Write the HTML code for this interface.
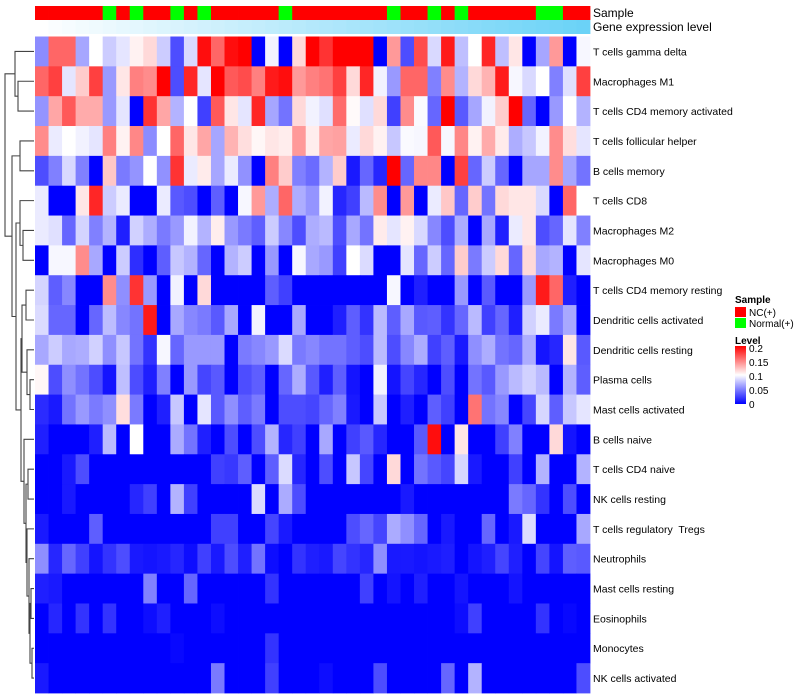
<!DOCTYPE html>
<html><head><meta charset="utf-8"><style>
html,body{margin:0;padding:0;background:#fff;}
svg{display:block;font-family:"Liberation Sans",Arial,sans-serif;}
#labels text{white-space:pre;}
</style></head><body>
<svg id="chart" width="800" height="700" viewBox="0 0 800 700" xmlns="http://www.w3.org/2000/svg">
<g id="dendro"></g>
<g id="annot"></g>
<g id="cells"></g>
<g id="labels"></g>
<text x="593" y="17" font-size="12">Sample</text>
<text x="593" y="31" font-size="12">Gene expression level</text>
<g>
<text x="735" y="303" font-size="10" font-weight="bold">Sample</text>
<rect x="735" y="307" width="11" height="10" fill="#ff0000"/>
<text x="749" y="316" font-size="10">NC(+)</text>
<rect x="735" y="318" width="11" height="10" fill="#00ff00"/>
<text x="749" y="327" font-size="10">Normal(+)</text>
<text x="735" y="344" font-size="10" font-weight="bold">Level</text>
<defs><linearGradient id="lg" x1="0" y1="1" x2="0" y2="0"><stop offset="0" stop-color="#0000ff"/><stop offset="0.5" stop-color="#ffffff"/><stop offset="1" stop-color="#ff0000"/></linearGradient></defs>
<rect x="735" y="346" width="11" height="58" fill="url(#lg)"/>
<g id="lticks"></g>
</g>
</svg>
<script>
const rowNames=["T cells gamma delta","Macrophages M1","T cells CD4 memory activated","T cells follicular helper","B cells memory","T cells CD8","Macrophages M2","Macrophages M0","T cells CD4 memory resting","Dendritic cells activated","Dendritic cells resting","Plasma cells","Mast cells activated","B cells naive","T cells CD4 naive","NK cells resting","T cells regulatory  Tregs","Neutrophils","Mast cells resting","Eosinophils","Monocytes","NK cells activated"];
const sampleGroup=["NC","NC","NC","NC","NC","Normal","NC","Normal","NC","NC","Normal","NC","Normal","NC","NC","NC","NC","NC","Normal","NC","NC","NC","NC","NC","NC","NC","Normal","NC","NC","Normal","NC","Normal","NC","NC","NC","NC","NC","Normal","Normal","NC","NC"];
const geneLevel=[0,0.03,0.05,0.07,0.09,0.11,0.13,0.15,0.17,0.19,0.21,0.23,0.25,0.27,0.29,0.31,0.33,0.35,0.37,0.39,0.41,0.43,0.45,0.47,0.49,0.51,0.53,0.55,0.57,0.59,0.61,0.63,0.65,0.67,0.69,0.71,0.73,0.75,0.77,0.79,0.81];
const levelTicks=[0,0.05,0.1,0.15,0.2];
const r1=[.055,.16,.16,.065,.1,.08,.09,.105,.115,.08,.03,.085,.195,.16,.195,.2,0,.095,0,.115,.2,.18,.2,.2,.2,0,.14,.03,.17,.085,.19,.075,.1,.185,.075,.11,0,.065,.14,0,.097];
const r2=[.16,.175,.09,.12,.175,.06,.11,.15,.145,.2,.03,.185,.09,.2,.165,.17,.15,.19,.195,.14,.15,.155,.175,.115,.185,.095,.06,.16,.16,.05,.145,.07,.115,.13,.19,.097,.085,.1,.05,.088,.175];
const r3=[.058,.135,.165,.133,.133,.06,.09,0,.18,.135,.07,.1,.025,.165,.11,.09,.185,.065,.045,.115,.095,.088,.158,.102,.088,.115,.025,.145,.098,.04,.2,.035,.065,.095,.12,.2,.04,0,.06,.1,.07];
const r4=[.145,.092,.1,.095,.09,.15,.105,.147,.055,.1,.16,.11,.135,.065,.13,.113,.103,.11,.107,.14,.107,.135,.137,.092,.115,.105,.078,.098,.097,.165,.097,.147,.105,.133,.108,.068,.078,.095,.145,.113,.09];
const r5=[.03,.05,.085,.05,0,.122,.048,.058,.1,.057,.18,.092,.108,.065,.092,.057,0,.15,.12,.05,.042,.07,.12,.01,.04,.015,.2,.04,.147,.147,0,.175,.04,.08,.04,0,.065,.065,.145,.065,.045];
const r6=[.092,0,0,.11,.185,.08,.092,0,0,.092,.035,.03,0,.037,0,.097,.14,.068,.16,.068,.058,.095,.015,.025,.073,.145,0,.14,0,.092,.122,.04,.12,.045,.115,.11,.11,.085,0,.16,.1];
const r7=[.092,.088,.04,.083,.05,.07,.012,.082,.068,.048,.06,.095,.07,.107,.06,.048,.037,.08,.053,.03,.068,.073,.03,.066,.045,.108,.09,.105,.085,.053,.03,.068,0,.066,.012,.092,.11,.03,.04,.09,.05];
const r8=[0,.097,.097,.145,.066,0,.08,.018,0,.037,.078,.07,.04,0,.07,.08,0,.06,0,.097,.066,.06,.025,.1,.086,0,0,.09,.04,.08,.04,.12,.048,.08,.115,.04,.115,.066,.07,0,.09];
const r9=[.083,.037,.053,0,0,.145,.056,.18,.06,0,.095,0,.115,0,0,0,0,.037,.025,0,0,0,0,0,0,0,.097,0,.012,0,0,.06,0,.035,0,0,.06,.19,.16,.012,0];
const r10=[.086,.04,.04,0,.04,.074,.053,.045,.19,0,.066,.053,.048,.035,.066,0,.095,0,0,.066,0,0,.012,.037,.02,.073,.037,.066,.035,.037,.02,.04,.073,.025,.04,.012,.082,.092,.048,.066,0];
const r11=[.066,.08,.066,.068,.082,.056,.078,.045,.02,.097,.04,.06,.06,.06,0,.048,.053,.06,.086,.048,.053,.045,.045,.037,.03,.073,.03,.053,.068,.025,.037,.01,.056,.068,.045,.04,.068,.008,.015,.11,.035];
const r12=[.103,.03,.056,.045,.03,.008,.075,.03,.012,.05,0,.06,.027,.035,0,.03,.037,0,.04,.068,.035,.012,.037,.008,0,.095,.008,.027,.015,0,.03,0,.045,.035,.06,.073,.082,.073,0,.07,.037];
const r13=[.017,.01,.045,.06,.048,.056,.113,.048,0,.012,.078,0,.09,.035,.056,.037,.048,0,.03,.03,.027,.04,.05,.01,0,.078,0,.012,0,.037,.025,0,.155,.045,.053,0,.027,.084,.037,.078,.09];
const r14=[.012,0,0,0,.012,.073,0,.1,0,0,.067,.045,.012,0,.03,0,.03,.07,.015,.025,0,.066,0,.025,.035,.015,0,0,.035,.195,0,.11,0,0,.025,.05,0,0,.115,.008,0];
const r15=[0,0,.01,.03,0,0,0,0,0,0,0,0,0,.025,.022,.037,0,.037,.086,.015,0,.03,0,.078,.027,0,.115,0,.045,.035,.027,.084,.01,0,0,.025,0,.07,0,0,.07];
const r16=[0,0,.01,0,0,0,0,.015,.025,0,.07,.025,0,0,0,0,.086,0,.067,.03,0,0,0,0,0,0,0,.01,0,0,0,0,0,0,0,.048,.04,.02,0,.03,0];
const r17=[.01,0,0,0,.037,0,0,0,0,0,0,0,0,.025,.025,0,0,.027,.01,0,0,0,0,.03,.04,.027,.067,.056,.04,0,.01,0,0,.04,0,.01,.086,0,0,0,.066];
const r18=[.056,.015,.04,.025,.008,.02,.03,.01,.008,.01,.015,.005,.025,.01,.03,.012,.045,.005,0,.02,.012,.01,.027,.02,.015,.056,.01,.01,.008,.01,.012,0,.008,.012,.027,.012,0,.027,.008,.037,.035];
const r19=[.012,.01,0,0,0,0,0,0,.05,0,0,.04,0,0,0,0,0,.02,0,0,0,0,0,0,.025,0,.008,0,.012,0,0,.008,0,0,0,.008,0,0,0,0,0];
const r20=[0,.015,0,.02,0,.02,0,0,.005,.012,0,0,0,.005,0,0,0,0,0,0,0,0,0,0,0,0,0,0,0,0,0,.005,.025,0,0,0,0,.02,0,.003,0];
const r21=[0,0,0,0,0,0,0,0,0,0,.003,0,0,0,0,0,0,.02,0,0,0,0,0,0,0,0,0,0,0,0,0,0,0,0,0,0,0,0,0,0,0];
const r22=[.01,0,0,0,0,0,0,0,0,0,0,0,0,.048,0,0,0,.025,0,0,0,.005,0,0,0,.03,0,0,0,0,.04,0,.07,0,0,0,0,0,0,0,.03];
const values=[r1,r2,r3,r4,r5,r6,r7,r8,r9,r10,r11,r12,r13,r14,r15,r16,r17,r18,r19,r20,r21,r22];

const NS="http://www.w3.org/2000/svg";
const X0=35,X1=590,Y0=36.5,Y1=693;
const nC=values[0].length,nR=values.length;
const cw=(X1-X0)/nC,rh=(Y1-Y0)/nR;
const xCol=i=>X0+i*cw, yRow=j=>Y0+j*rh;
function colorOf(v){v=Math.max(0,Math.min(0.2,v));let r,g,b;
 if(v<=0.1){const t=v/0.1;r=Math.round(255*t);g=r;b=255;}else{const t=(v-0.1)/0.1;r=255;g=Math.round(255*(1-t));b=g;}
 return `rgb(${r},${g},${b})`;}
function mk(tag,attrs,parent){const e=document.createElementNS(NS,tag);for(const k in attrs)e.setAttribute(k,attrs[k]);parent.appendChild(e);return e;}
const cells=document.getElementById('cells');
values.forEach((row,j)=>row.forEach((v,i)=>{
 const r=mk('rect',{x:xCol(i),y:yRow(j),width:cw+0.4,height:rh+0.4,fill:colorOf(v)},cells);
 
 
}));
const annot=document.getElementById('annot');
sampleGroup.forEach((s,i)=>{
 const r=mk('rect',{x:xCol(i),y:6,width:cw+0.4,height:14,fill:s==="NC"?"#ff0000":"#00ff00"},annot);
 
 
});
geneLevel.forEach((g,i)=>{
 const c=`rgb(${Math.round(255-g*(255-72))},${Math.round(255-g*(255-200))},${Math.round(255-g*(255-245))})`;
 const r=mk('rect',{x:xCol(i),y:20,width:cw+0.4,height:14,fill:c},annot);
 
 
});
const labels=document.getElementById('labels');
rowNames.forEach((n,j)=>{
 const t=mk('text',{x:593,y:yRow(j)+rh/2+4,'font-size':10.5,fill:'#000'},labels);
 t.textContent=n;
 
 
});
const lt=document.getElementById('lticks');
levelTicks.forEach(v=>{
 const y=404-(v/0.2)*56;
 const t=mk('text',{x:749,y:y+4,'font-size':10},lt);
 t.textContent=String(v);
 
 
});
const tree=[[0,[1,2,18],15],[[3,4,20],[[5,[6,7,23],20],[[[8,9,26],[10,[11,12,30],27],22],[13,[[14,15,28],[16,[17,[[18,19,31],[20,21,32],30],29],27],26],24],21],16],12],5];
const dg=document.getElementById('dendro');
function draw(n){
 if(typeof n==='number')return{y:yRow(n)+rh/2,x:34};
 const a=draw(n[0]),b=draw(n[1]),x=n[2];
 const p=mk('path',{d:`M${a.x},${a.y}H${x}V${b.y}H${b.x}`,fill:'none',stroke:'#444',"stroke-width":1.1},dg);
 
 
 return{y:(a.y+b.y)/2,x:x};
}
const root=draw(tree);
</script>
</body></html>
